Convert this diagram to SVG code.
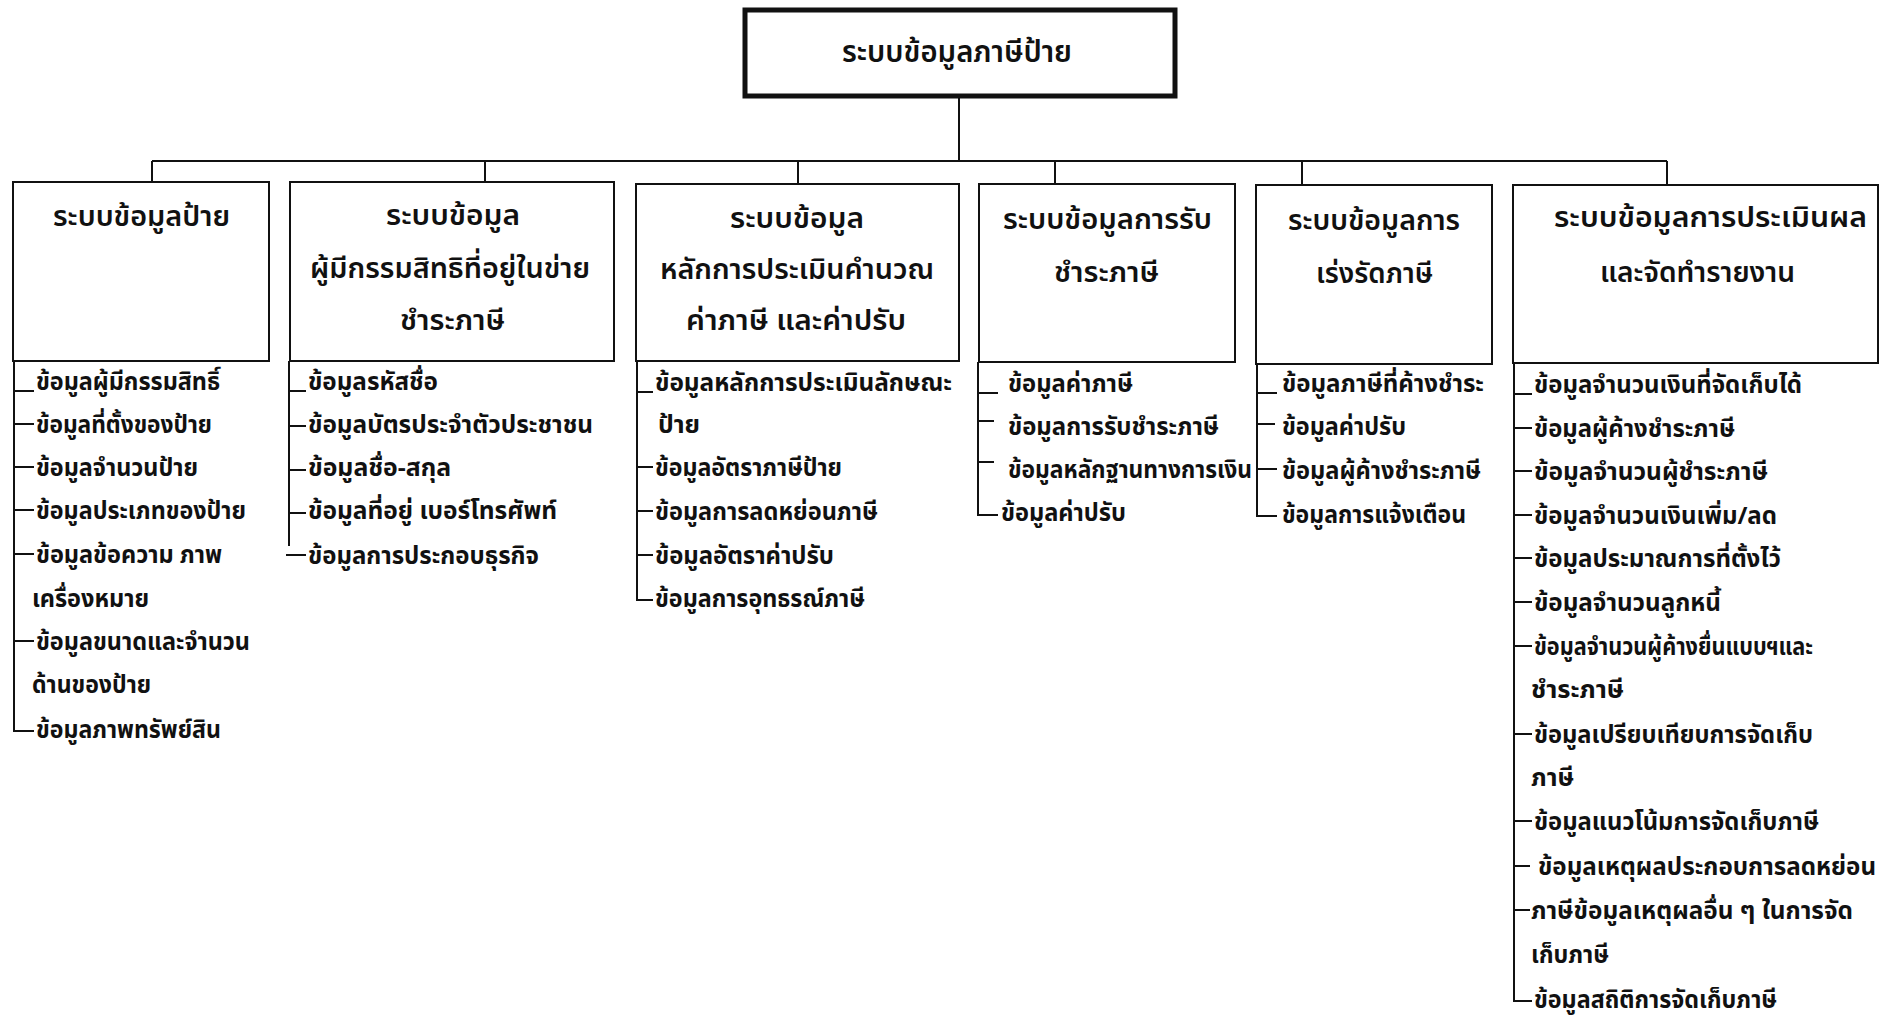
<svg xmlns="http://www.w3.org/2000/svg" width="1881" height="1019" viewBox="0 0 1881 1019">
<style>
.bg{fill:#fff}
.box{fill:#fff;stroke:#111;stroke-width:2}
.top{fill:#fff;stroke:#111;stroke-width:5}
.ln{fill:none;stroke:#111;stroke-width:2}
text{font-family:"Noto Sans Thai","Noto Sans","DejaVu Sans",sans-serif;fill:#111}
.h{font-size:29px;font-weight:600}
.t{font-size:30px;font-weight:600}
.i{font-size:24px;font-weight:700}
</style>
<rect class="bg" x="0" y="0" width="1881" height="1019"/>
<g id="connectors">
<path class="ln" d="M959 98V161M152 161H1667M152 161V182M485 161V182M798 161V184M1055 161V184M1302 161V185M1667 161V185"/>
<path class="ln" d="M14 361V731H34M14 391H34M14 424H34M14 467H34M14 510H34M14 554H34M14 641H34"/>
<path class="ln" d="M289 361V546M289 391H306M289 426H306M289 470H306M289 513H306M286 555H306"/>
<path class="ln" d="M637 361V600H653M637 392H653M637 467H653M637 511H653M637 555H653"/>
<path class="ln" d="M978 362V515H998M978 393H998M978 421H994M978 462H994"/>
<path class="ln" d="M1257 364V516H1277M1257 393H1277M1257 424H1275M1257 469H1277"/>
<path class="ln" d="M1514 363V1001H1532M1514 394H1532M1514 428H1532M1514 471H1532M1514 515H1532M1514 558H1532M1514 602H1532M1514 646H1532M1514 734H1532M1514 821H1532M1514 866H1530M1514 910H1530"/>
</g>
<g id="root">
<rect class="top" x="745" y="10" width="430" height="86"/>
<text class="t" x="842" y="62" textLength="230" lengthAdjust="spacingAndGlyphs">ระบบข้อมูลภาษีป้าย</text>
</g>
<g id="n1">
<rect class="box" x="13" y="182" width="256" height="179"/>
<text class="h" x="53" y="226" textLength="177" lengthAdjust="spacingAndGlyphs">ระบบข้อมูลป้าย</text>
<text class="i" x="36" y="390" textLength="184" lengthAdjust="spacingAndGlyphs">ข้อมูลผู้มีกรรมสิทธิ์</text>
<text class="i" x="36" y="433" textLength="176" lengthAdjust="spacingAndGlyphs">ข้อมูลที่ตั้งของป้าย</text>
<text class="i" x="36" y="476" textLength="162" lengthAdjust="spacingAndGlyphs">ข้อมูลจำนวนป้าย</text>
<text class="i" x="36" y="519" textLength="210" lengthAdjust="spacingAndGlyphs">ข้อมูลประเภทของป้าย</text>
<text class="i" x="36" y="563" textLength="186" lengthAdjust="spacingAndGlyphs">ข้อมูลข้อความ ภาพ</text>
<text class="i" x="32" y="607" textLength="117" lengthAdjust="spacingAndGlyphs">เครื่องหมาย</text>
<text class="i" x="36" y="650" textLength="214" lengthAdjust="spacingAndGlyphs">ข้อมูลขนาดและจำนวน</text>
<text class="i" x="32" y="693" textLength="119" lengthAdjust="spacingAndGlyphs">ด้านของป้าย</text>
<text class="i" x="36" y="738" textLength="185" lengthAdjust="spacingAndGlyphs">ข้อมูลภาพทรัพย์สิน</text>
</g>
<g id="n2">
<rect class="box" x="290" y="182" width="324" height="179"/>
<text class="h" x="386" y="225" textLength="134" lengthAdjust="spacingAndGlyphs">ระบบข้อมูล</text>
<text class="h" x="310" y="278" textLength="280" lengthAdjust="spacingAndGlyphs">ผู้มีกรรมสิทธิที่อยู่ในข่าย</text>
<text class="h" x="400" y="330" textLength="105" lengthAdjust="spacingAndGlyphs">ชำระภาษี</text>
<text class="i" x="308" y="390" textLength="130" lengthAdjust="spacingAndGlyphs">ข้อมูลรหัสชื่อ</text>
<text class="i" x="308" y="433" textLength="285" lengthAdjust="spacingAndGlyphs">ข้อมูลบัตรประจำตัวประชาชน</text>
<text class="i" x="308" y="476" textLength="143" lengthAdjust="spacingAndGlyphs">ข้อมูลชื่อ-สกุล</text>
<text class="i" x="308" y="519" textLength="249" lengthAdjust="spacingAndGlyphs">ข้อมูลที่อยู่ เบอร์โทรศัพท์</text>
<text class="i" x="308" y="564" textLength="231" lengthAdjust="spacingAndGlyphs">ข้อมูลการประกอบธุรกิจ</text>
</g>
<g id="n3">
<rect class="box" x="636" y="184" width="323" height="177"/>
<text class="h" x="730" y="228" textLength="134" lengthAdjust="spacingAndGlyphs">ระบบข้อมูล</text>
<text class="h" x="660" y="279" textLength="274" lengthAdjust="spacingAndGlyphs">หลักการประเมินคำนวณ</text>
<text class="h" x="686" y="330" textLength="220" lengthAdjust="spacingAndGlyphs">ค่าภาษี และค่าปรับ</text>
<text class="i" x="655" y="391" textLength="297" lengthAdjust="spacingAndGlyphs">ข้อมูลหลักการประเมินลักษณะ</text>
<text class="i" x="658" y="433" textLength="42" lengthAdjust="spacingAndGlyphs">ป้าย</text>
<text class="i" x="655" y="476" textLength="187" lengthAdjust="spacingAndGlyphs">ข้อมูลอัตราภาษีป้าย</text>
<text class="i" x="655" y="520" textLength="223" lengthAdjust="spacingAndGlyphs">ข้อมูลการลดหย่อนภาษี</text>
<text class="i" x="655" y="564" textLength="179" lengthAdjust="spacingAndGlyphs">ข้อมูลอัตราค่าปรับ</text>
<text class="i" x="655" y="607" textLength="210" lengthAdjust="spacingAndGlyphs">ข้อมูลการอุทธรณ์ภาษี</text>
</g>
<g id="n4">
<rect class="box" x="979" y="184" width="256" height="178"/>
<text class="h" x="1003" y="229" textLength="209" lengthAdjust="spacingAndGlyphs">ระบบข้อมูลการรับ</text>
<text class="h" x="1054" y="282" textLength="105" lengthAdjust="spacingAndGlyphs">ชำระภาษี</text>
<text class="i" x="1008" y="392" textLength="125" lengthAdjust="spacingAndGlyphs">ข้อมูลค่าภาษี</text>
<text class="i" x="1008" y="435" textLength="211" lengthAdjust="spacingAndGlyphs">ข้อมูลการรับชำระภาษี</text>
<text class="i" x="1008" y="478" textLength="244" lengthAdjust="spacingAndGlyphs">ข้อมูลหลักฐานทางการเงิน</text>
<text class="i" x="1001" y="521" textLength="125" lengthAdjust="spacingAndGlyphs">ข้อมูลค่าปรับ</text>
</g>
<g id="n5">
<rect class="box" x="1256" y="185" width="236" height="179"/>
<text class="h" x="1288" y="230" textLength="172" lengthAdjust="spacingAndGlyphs">ระบบข้อมูลการ</text>
<text class="h" x="1316" y="283" textLength="117" lengthAdjust="spacingAndGlyphs">เร่งรัดภาษี</text>
<text class="i" x="1282" y="392" textLength="202" lengthAdjust="spacingAndGlyphs">ข้อมูลภาษีที่ค้างชำระ</text>
<text class="i" x="1282" y="435" textLength="124" lengthAdjust="spacingAndGlyphs">ข้อมูลค่าปรับ</text>
<text class="i" x="1282" y="479" textLength="199" lengthAdjust="spacingAndGlyphs">ข้อมูลผู้ค้างชำระภาษี</text>
<text class="i" x="1282" y="523" textLength="184" lengthAdjust="spacingAndGlyphs">ข้อมูลการแจ้งเตือน</text>
</g>
<g id="n6">
<rect class="box" x="1513" y="185" width="365" height="178"/>
<text class="h" x="1554" y="227" textLength="313" lengthAdjust="spacingAndGlyphs">ระบบข้อมูลการประเมินผล</text>
<text class="h" x="1600" y="282" textLength="195" lengthAdjust="spacingAndGlyphs">และจัดทำรายงาน</text>
<text class="i" x="1534" y="393" textLength="268" lengthAdjust="spacingAndGlyphs">ข้อมูลจำนวนเงินที่จัดเก็บได้</text>
<text class="i" x="1534" y="437" textLength="201" lengthAdjust="spacingAndGlyphs">ข้อมูลผู้ค้างชำระภาษี</text>
<text class="i" x="1534" y="480" textLength="234" lengthAdjust="spacingAndGlyphs">ข้อมูลจำนวนผู้ชำระภาษี</text>
<text class="i" x="1534" y="524" textLength="243" lengthAdjust="spacingAndGlyphs">ข้อมูลจำนวนเงินเพิ่ม/ลด</text>
<text class="i" x="1534" y="567" textLength="247" lengthAdjust="spacingAndGlyphs">ข้อมูลประมาณการที่ตั้งไว้</text>
<text class="i" x="1534" y="611" textLength="187" lengthAdjust="spacingAndGlyphs">ข้อมูลจำนวนลูกหนี้</text>
<text class="i" x="1534" y="655" textLength="279" lengthAdjust="spacingAndGlyphs">ข้อมูลจำนวนผู้ค้างยื่นแบบฯและ</text>
<text class="i" x="1531" y="698" textLength="93" lengthAdjust="spacingAndGlyphs">ชำระภาษี</text>
<text class="i" x="1534" y="743" textLength="279" lengthAdjust="spacingAndGlyphs">ข้อมูลเปรียบเทียบการจัดเก็บ</text>
<text class="i" x="1531" y="786" textLength="43" lengthAdjust="spacingAndGlyphs">ภาษี</text>
<text class="i" x="1534" y="830" textLength="285" lengthAdjust="spacingAndGlyphs">ข้อมูลแนวโน้มการจัดเก็บภาษี</text>
<text class="i" x="1538" y="875" textLength="338" lengthAdjust="spacingAndGlyphs">ข้อมูลเหตุผลประกอบการลดหย่อน</text>
<text class="i" x="1531" y="919" textLength="322" lengthAdjust="spacingAndGlyphs">ภาษีข้อมูลเหตุผลอื่น ๆ ในการจัด</text>
<text class="i" x="1531" y="963" textLength="78" lengthAdjust="spacingAndGlyphs">เก็บภาษี</text>
<text class="i" x="1534" y="1008" textLength="243" lengthAdjust="spacingAndGlyphs">ข้อมูลสถิติการจัดเก็บภาษี</text>
</g>
</svg>
